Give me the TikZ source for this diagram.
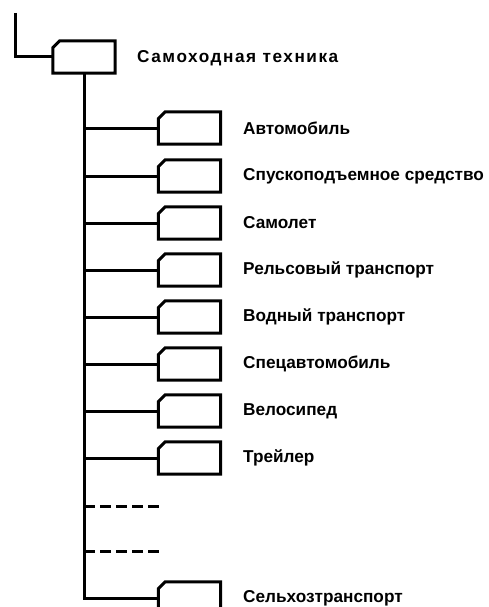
\documentclass[tikz,border=0pt]{standalone}
\usepackage{fontspec}
\setmainfont{Liberation Sans}

% Unit box with a cut top-left corner
\newcommand{\unitbox}[1]{%
	\draw[wire, line join=miter] (#1.south west) -- ([yshift=-7pt]#1.north west) -- ([xshift=7pt]#1.north west)
	-- (#1.north east) -- (#1.south east) -- cycle;}

\begin{document}
\begin{tikzpicture}[x=1pt, y=-1pt,
		unit/.style={minimum width=62pt, minimum height=32pt, inner sep=0pt},
		itemtext/.style={anchor=west, inner sep=0pt, font=\fontsize{17.2}{20}\selectfont\bfseries},
		headtext/.style={anchor=west, inner sep=0pt, font=\fontsize{17.2}{20}\selectfont\bfseries\addfontfeature{LetterSpace=9}},
		wire/.style={line width=3pt},
		gap/.style={line width=3pt, dash pattern=on 11pt off 5pt}]
	% Fix the page size
	\useasboundingbox (0,0) rectangle (489,607);
	\clip (0,0) rectangle (489,607);
	
	% Top unit
	\coordinate (start) at (15,13);
	\node[unit] (top) at (84,57) {};
	\node[headtext] (toptext) at (137,58) {Самоходная техника};
	\draw[wire] (start) |- (top.west);
	
	% Child units
	\node[unit] (auto) at (189.5,128) {};
	\node[itemtext] (autotext) at (243,128) {Автомобиль};
	
	\node[unit] (lift) at (189.5,176) {};
	\node[itemtext] (lifttext) at (243,176) {Спускоподъемное средство};
	
	\node[unit] (plane) at (189.5,223) {};
	\node[itemtext] (planetext) at (243,223) {Самолет};
	
	\node[unit] (rail) at (189.5,270) {};
	\node[itemtext] (railtext) at (243,270) {Рельсовый транспорт};
	
	\node[unit] (water) at (189.5,317) {};
	\node[itemtext] (watertext) at (243,317) {Водный транспорт};
	
	\node[unit] (special) at (189.5,364) {};
	\node[itemtext] (specialtext) at (243,364) {Спецавтомобиль};
	
	\node[unit] (bike) at (189.5,411) {};
	\node[itemtext] (biketext) at (243,411) {Велосипед};
	
	\node[unit] (trailer) at (189.5,458) {};
	\node[itemtext] (trailertext) at (243,458) {Трейлер};
	
	\node[unit] (farm) at (189.5,598) {};
	\node[itemtext] (farmtext) at (243,598) {Сельхозтранспорт};
	
	% Box outlines
	\unitbox{top}
	\unitbox{auto}
	\unitbox{lift}
	\unitbox{plane}
	\unitbox{rail}
	\unitbox{water}
	\unitbox{special}
	\unitbox{bike}
	\unitbox{trailer}
	\unitbox{farm}
	
	% Trunk and branches
	\draw[wire] (top.south) |- (farm.west);
	\draw[wire] (top.south |- auto.west) -- (auto.west);
	\draw[wire] (top.south |- lift.west) -- (lift.west);
	\draw[wire] (top.south |- plane.west) -- (plane.west);
	\draw[wire] (top.south |- rail.west) -- (rail.west);
	\draw[wire] (top.south |- water.west) -- (water.west);
	\draw[wire] (top.south |- special.west) -- (special.west);
	\draw[wire] (top.south |- bike.west) -- (bike.west);
	\draw[wire] (top.south |- trailer.west) -- (trailer.west);
	
	% Omitted branches
	\coordinate (gapone) at (160,506);
	\coordinate (gaptwo) at (160,551);
	\draw[gap] (top.south |- gapone) -- (gapone);
	\draw[gap] (top.south |- gaptwo) -- (gaptwo);
\end{tikzpicture}
\end{document}
